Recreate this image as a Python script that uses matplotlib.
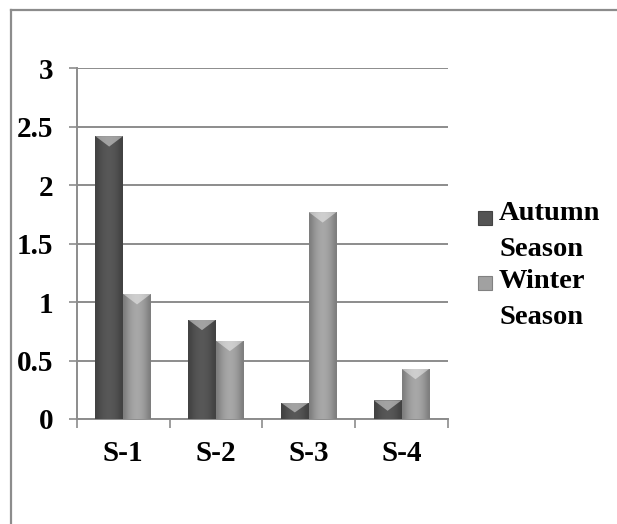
import numpy as np
import matplotlib.pyplot as plt
from matplotlib.patches import Rectangle, Polygon
from matplotlib.lines import Line2D

categories = ['S-1', 'S-2', 'S-3', 'S-4']
autumn = [2.42, 0.85, 0.14, 0.16]
winter = [1.07, 0.67, 1.77, 0.43]
series_names = [['Autumn', 'Season'], ['Winter', 'Season']]
y_ticks = [0, 0.5, 1, 1.5, 2, 2.5, 3]
y_labels = ['0', '0.5', '1', '1.5', '2', '2.5', '3']

dark = np.array([0.33, 0.33, 0.33])
light = np.array([0.63, 0.63, 0.63])
grid_col = '#8c8c8c'

plt.rcParams['font.family'] = ['Liberation Serif', 'DejaVu Serif']
plt.rcParams['font.weight'] = 'bold'

fig = plt.figure(figsize=(6.17, 5.24), dpi=100)
ax = fig.add_axes([0.1243, 0.2004, 0.6017, 0.6693])


def shade_bar(ax, bar, base):
    # horizontal bevel: darker edges, lighter middle
    x0, w, h = bar.get_x(), bar.get_width(), bar.get_height()
    prof = np.array([0.78, 0.9, 0.98, 1.03, 1.05, 1.03, 0.98, 0.9, 0.78])
    img = np.clip(base[None, None, :] * prof[None, :, None], 0, 1)
    im = ax.imshow(img, extent=(x0, x0 + w, 0, h), aspect='auto',
                   interpolation='bicubic', zorder=3)
    im.set_clip_path(bar)
    # light chevron at the top
    dh = min(0.09, h * 0.6)
    tri = Polygon([(x0, h), (x0 + w, h), (x0 + w * 0.5, h - dh)],
                  closed=True, facecolor='white', alpha=0.45,
                  edgecolor='none', zorder=4)
    ax.add_patch(tri)


x = np.arange(len(categories))
bw = 0.3
bars_a = ax.bar(x - bw / 2, autumn, bw, color=dark, zorder=2)
bars_w = ax.bar(x + bw / 2, winter, bw, color=light, zorder=2)
for b in bars_a:
    shade_bar(ax, b, dark)
for b in bars_w:
    shade_bar(ax, b, light)

ax.set_xlim(-0.5, len(categories) - 0.5)
ax.set_ylim(0, 3)
ax.set_yticks(y_ticks)
ax.set_yticklabels(y_labels)
ax.set_xticks(x)
ax.set_xticklabels(categories)
ax.set_xticks(np.arange(len(categories) + 1) - 0.5, minor=True)
ax.tick_params(axis='x', which='major', length=0, pad=15, labelsize=21)
ax.tick_params(axis='x', which='minor', length=6.5, width=1.2, color=grid_col)
ax.tick_params(axis='y', length=6, width=1.2, color=grid_col, pad=11, labelsize=21)
ax.yaxis.grid(True, color=grid_col, linewidth=1.4, zorder=0)
ax.set_axisbelow(True)
for s in ['top', 'right']:
    ax.spines[s].set_visible(False)
for s in ['left', 'bottom']:
    ax.spines[s].set_color(grid_col)
    ax.spines[s].set_linewidth(1.4)

# legend drawn by hand to mimic the two-line labels
W, H = 617.0, 524.0
leg = [(dark, 218, [213, 249]), (light, 283, [281, 318])]
for (col, sq_y, line_ys), names in zip(leg, series_names):
    r = Rectangle((478 / W, 1 - (sq_y + 7) / H), 14 / W, 14 / H,
                  transform=fig.transFigure, facecolor=col,
                  edgecolor=col * 0.8, linewidth=0.8)
    fig.patches.append(r)
    for ly, name in zip(line_ys, names):
        fig.text(499 / W, 1 - ly / H, name, fontsize=20.5, fontweight='bold',
                 va='center', ha='left')

# outer frame lines (top and left)
fig.add_artist(Line2D([11 / W, 1], [1 - 10 / H, 1 - 10 / H],
                      transform=fig.transFigure, color='#8c8c8c', lw=1.6))
fig.add_artist(Line2D([11 / W, 11 / W], [0, 1 - 10 / H],
                      transform=fig.transFigure, color='#8c8c8c', lw=1.6))

fig.savefig('out.png', dpi=100)
